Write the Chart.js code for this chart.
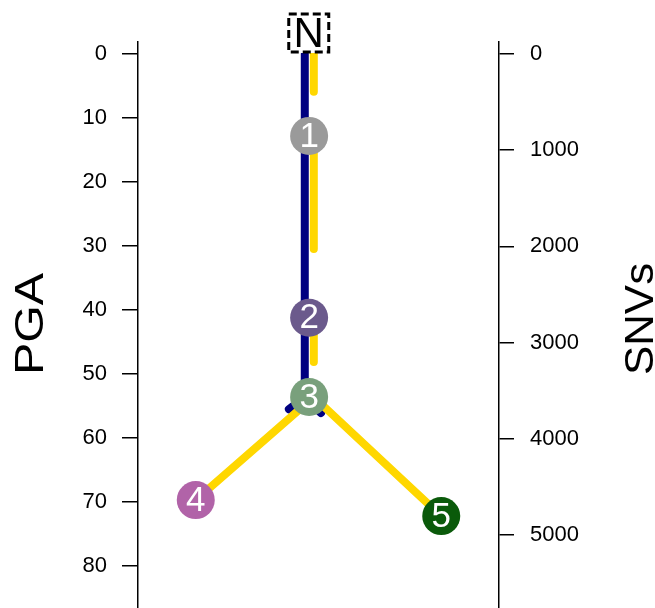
<!DOCTYPE html>
<html>
<head>
<meta charset="utf-8">
<script src="https://cdn.jsdelivr.net/npm/chart.js@4"></script>
<style>
  html, body { margin: 0; padding: 0; background: #fff; }
  #wrap { width: 655px; height: 608px; }
</style>
</head>
<body>
<div id="wrap"><canvas id="treeChart"></canvas></div>
<script>
// Tick labels
const pgaTicks = [0, 10, 20, 30, 40, 50, 60, 70, 80];
const snvTicks = [0, 1000, 2000, 3000, 4000, 5000];

// Tree nodes (x = layout position, y = PGA)
const nodeLabels = ['1', '2', '3', '4', '5'];
const nodeX = [4.74, 4.74, 4.74, 1.6, 8.4];
const nodePGA = [12.8, 41.2, 53.6, 69.7, 72.2];
const nodeColors = ['#9a9a9a', '#6b5a8c', '#79a07c', '#b163a8', '#0a5a0a'];
const rootLabel = 'N';
const rootX = 4.73;
const rootPGA = 0;

// PGA branches (navy), in PGA units
const pgaX = [4.62, 4.62, 4.18, 4.62, 5.07];
const pgaTrunk = [0, 53.6];
const pgaStubLeft = [53.6, 55.5];
const pgaStubRight = [53.6, 56.1];

// SNV branches (yellow) along the trunk, in SNV units
const snvX = 4.87;
const snvSegments = [[0, 392], [852, 2027], [2744, 3202]];
// SNV branches from node 3 to the leaves, in PGA units
const leafBranchStart = 53.6;

const FONT = '"Liberation Sans", Arial, Helvetica, sans-serif';

document.addEventListener("DOMContentLoaded", function() {
  const ctx = document.getElementById('treeChart').getContext('2d');

  const navy = '#000080';
  const gold = '#ffd700';

  const seg = (pts, color, axis, order) => ({
    type: 'scatter',
    data: pts,
    showLine: true,
    borderColor: color,
    borderWidth: 8,
    borderCapStyle: 'round',
    pointRadius: 0,
    yAxisID: axis,
    clip: false,
    order: order
  });

  const datasets = [];

  // Nodes on top
  datasets.push({
    type: 'scatter',
    data: nodeLabels.map((l, i) => ({ x: nodeX[i], y: nodePGA[i] })),
    backgroundColor: nodeColors,
    borderWidth: 0,
    pointRadius: 19,
    pointHoverRadius: 19,
    yAxisID: 'yPGA',
    clip: false,
    order: 0
  });

  // Yellow SNV segments
  snvSegments.forEach(s => {
    datasets.push(seg([{ x: snvX, y: s[0] }, { x: snvX, y: s[1] }], gold, 'ySNV', 1));
  });
  datasets.push(seg([{ x: snvX, y: leafBranchStart }, { x: nodeX[3], y: nodePGA[3] }], gold, 'yPGA', 1));
  datasets.push(seg([{ x: snvX, y: leafBranchStart }, { x: nodeX[4], y: nodePGA[4] }], gold, 'yPGA', 1));

  // Navy PGA segments
  datasets.push(seg([{ x: pgaX[0], y: pgaTrunk[0] }, { x: pgaX[1], y: pgaTrunk[1] }], navy, 'yPGA', 2));
  datasets.push(seg([{ x: pgaX[1], y: pgaStubLeft[0] }, { x: pgaX[2], y: pgaStubLeft[1] }], navy, 'yPGA', 2));
  datasets.push(seg([{ x: pgaX[3], y: pgaStubRight[0] }, { x: pgaX[4], y: pgaStubRight[1] }], navy, 'yPGA', 2));

  // Node labels, root box and axis titles
  const treeLabels = {
    id: 'treeLabels',
    afterDraw(chart) {
      const c = chart.ctx;
      const xs = chart.scales.x, ys = chart.scales.yPGA;
      c.save();
      c.textAlign = 'center';
      c.textBaseline = 'middle';
      c.fillStyle = '#fff';
      c.font = '35px ' + FONT;
      nodeLabels.forEach((l, i) => {
        c.fillText(l, xs.getPixelForValue(nodeX[i]), ys.getPixelForValue(nodePGA[i]) + 1);
      });

      // root "N" in a dashed box above the trunk
      const rx = xs.getPixelForValue(rootX);
      const ry = ys.getPixelForValue(rootPGA) - 21;
      c.fillStyle = '#fff';
      c.fillRect(rx - 21, ry - 20, 42, 40);
      c.setLineDash([8, 4]);
      c.lineWidth = 3;
      c.strokeStyle = '#000';
      c.strokeRect(rx - 20, ry - 19, 40, 38);
      c.setLineDash([]);
      c.fillStyle = '#000';
      c.font = '42px ' + FONT;
      c.fillText(rootLabel, rx, ry + 2);

      // axis titles, both reading bottom to top
      c.font = '41px ' + FONT;
      c.textBaseline = 'alphabetic';
      [['PGA', 43, 324, 1.18], ['SNVs', 653, 319, 1.07]].forEach(t => {
        c.save();
        c.translate(t[1], t[2]);
        c.rotate(-Math.PI / 2);
        c.scale(t[3], 1);
        c.fillText(t[0], 0, 0);
        c.restore();
      });
      c.restore();
    }
  };

  const axisCommon = {
    reverse: true,
    grid: { drawOnChartArea: false, color: '#000', lineWidth: 1.5, tickLength: 16 },
    border: { color: '#000', width: 1.5 },
    ticks: { color: '#000', font: { family: FONT, size: 22 }, callback: v => String(v) }
  };

  // keep the axes running to the very top/bottom of the plot area
  const noEdgePadding = s => { s.paddingTop = 0; s.paddingBottom = 0; };

  new Chart(ctx, {
    type: 'scatter',
    data: { datasets: datasets },
    plugins: [treeLabels],
    options: {
      responsive: true,
      maintainAspectRatio: false,
      animation: false,
      events: [],
      layout: { autoPadding: false, padding: { top: 42, bottom: 0, left: 0, right: 0 } },
      plugins: { legend: { display: false }, tooltip: { enabled: false } },
      scales: {
        x: { type: 'linear', display: false, min: 0, max: 10 },
        yPGA: Object.assign({}, axisCommon, {
          position: 'left',
          min: -1.875,
          max: 86.56,
          ticks: Object.assign({}, axisCommon.ticks, { padding: 15 }),
          afterBuildTicks: s => { s.ticks = pgaTicks.map(v => ({ value: v })); },
          afterFit: s => { s.width = 138; noEdgePadding(s); }
        }),
        ySNV: Object.assign({}, axisCommon, {
          position: 'right',
          min: -124.7,
          max: 5759,
          grid: Object.assign({}, axisCommon.grid, { tickLength: 15 }),
          ticks: Object.assign({}, axisCommon.ticks, { padding: 16 }),
          afterBuildTicks: s => { s.ticks = snvTicks.map(v => ({ value: v })); },
          afterFit: s => { s.width = 156; noEdgePadding(s); }
        })
      }
    }
  });
});
</script>
</body>
</html>
